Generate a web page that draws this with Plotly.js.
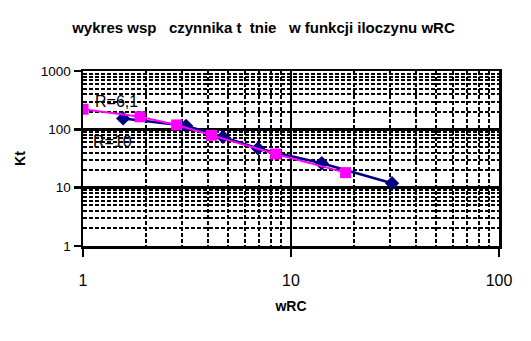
<!DOCTYPE html>
<html>
<head>
<meta charset="utf-8">
<script src="https://cdn.plot.ly/plotly-3.0.1.min.js"></script>
<style>html,body{margin:0;padding:0;background:#fff;}#chart{width:531px;height:341px;}</style>
</head>
<body>
<div id="chart"></div>
<script>
// Series R=6,1 (pink squares)
const wrcPink = [1.0, 1.88, 2.82, 4.15, 8.44, 18.3];
const ktPink = [221, 164, 119, 79, 37.8, 18.1];
// Series R=10 (navy diamonds)
const wrcNavy = [1.56, 3.13, 4.71, 6.94, 14.05, 30.6];
const ktNavy = [154, 115, 74, 47, 26.2, 11.9];

const xTickVals = [1, 10, 100];
const xTickText = ['1', '10', '100'];
const yTickVals = [1, 10, 100, 1000];
const yTickText = ['1', '10', '100', '1000'];

const titleText = 'wykres wsp\u00a0\u00a0\u00a0czynnika t\u00a0\u00a0tnie\u00a0\u00a0\u00a0w funkcji iloczynu wRC';
const labelA = 'R=6,1';
const labelB = 'R=10';

const FONT = 'Liberation Sans, Arial, sans-serif';

const traces = [
  {
    x: wrcNavy, y: ktNavy, type: 'scatter', mode: 'lines+markers',
    line: {color: '#000080', width: 2.5},
    marker: {symbol: 'diamond', size: 11, color: '#000080'},
    showlegend: false, hoverinfo: 'skip'
  },
  {
    x: wrcPink, y: ktPink, type: 'scatter', mode: 'lines+markers',
    line: {color: '#FF00FF', width: 2},
    marker: {symbol: 'square', size: 11, color: '#FF00FF'},
    showlegend: false, hoverinfo: 'skip'
  }
];

const gridMinor = {
  dtick: 'D1', showgrid: true, gridcolor: '#000', gridwidth: 2, griddash: '4px,2px', ticks: ''
};

const layout = {
  width: 531, height: 341,
  margin: {l: 83, r: 32, t: 71, b: 95},
  paper_bgcolor: '#fff', plot_bgcolor: '#fff',
  font: {family: FONT, color: '#000'},
  title: {
    text: titleText, x: 263.5 / 531, xanchor: 'center', y: 1 - 28 / 341, yanchor: 'middle',
    font: {family: FONT, size: 15, weight: 'bold', color: '#000'}
  },
  xaxis: {
    type: 'log', range: [0, 2], tickmode: 'array', tickvals: xTickVals, ticktext: xTickText,
    showgrid: true, gridcolor: '#000', gridwidth: 2.5,
    showline: true, linecolor: '#000', linewidth: 2.5, mirror: true,
    ticks: 'outside', ticklen: 8, tickwidth: 2.5, tickcolor: '#000',
    ticklabelstandoff: 10,
    tickfont: {family: FONT, size: 16, color: '#000'},
    minor: gridMinor, zeroline: false, fixedrange: true, automargin: true,
    title: {text: 'wRC', standoff: 14, font: {family: FONT, size: 14, weight: 'bold', color: '#000'}}
  },
  yaxis: {
    type: 'log', range: [0, 3], tickmode: 'array', tickvals: yTickVals, ticktext: yTickText,
    showgrid: true, gridcolor: '#000', gridwidth: 2.5,
    showline: true, linecolor: '#000', linewidth: 2.5, mirror: true,
    ticks: 'outside', ticklen: 7, tickwidth: 2.5, tickcolor: '#000',
    tickfont: {family: FONT, size: 13.5, color: '#000'},
    minor: gridMinor, zeroline: false, fixedrange: true, automargin: true,
    title: {text: 'Kt', standoff: 12, font: {family: FONT, size: 14, weight: 'bold', color: '#000'}}
  },
  annotations: [
    {x: Math.log10(1.449), y: Math.log10(306), xref: 'x', yref: 'y', text: labelA, showarrow: false,
     font: {family: FONT, size: 16, color: '#000'}},
    {x: Math.log10(1.386), y: Math.log10(61.9), xref: 'x', yref: 'y', text: labelB, showarrow: false,
     font: {family: FONT, size: 16, color: '#000'}}
  ]
};

Plotly.newPlot('chart', traces, layout, {staticPlot: true, displayModeBar: false});
</script>
</body>
</html>
